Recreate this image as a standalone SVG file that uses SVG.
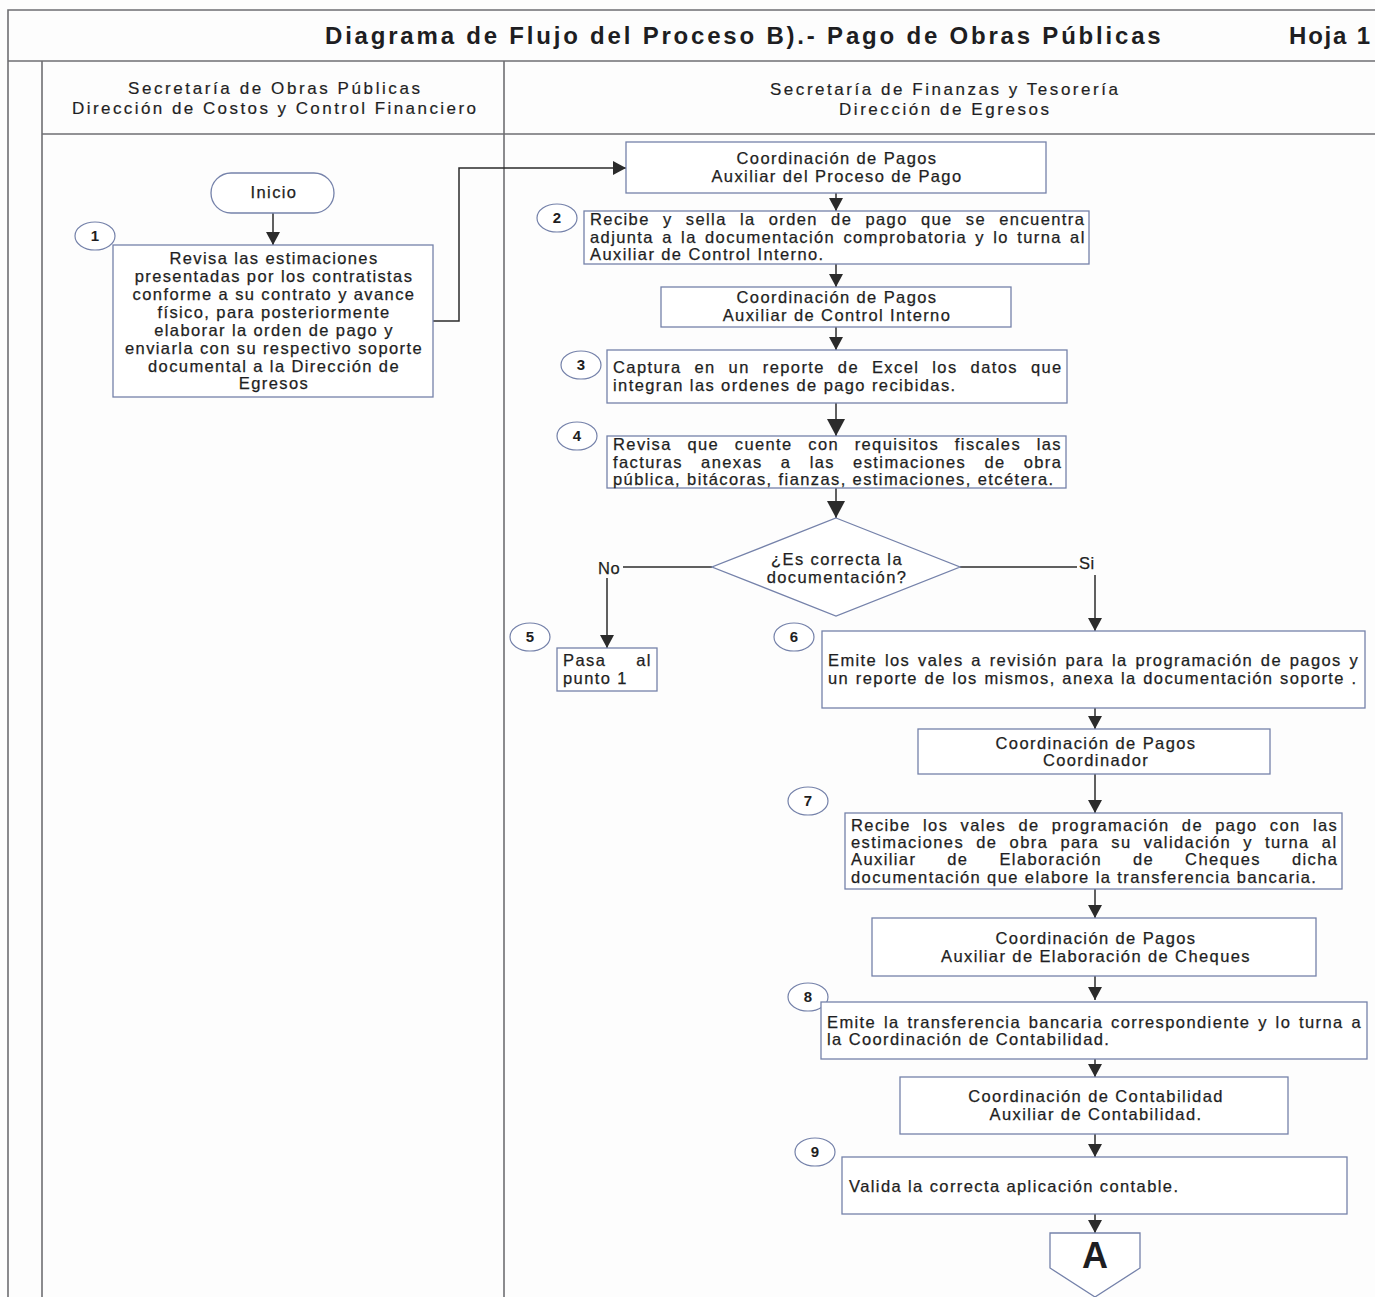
<svg xmlns="http://www.w3.org/2000/svg" width="1375" height="1297" viewBox="0 0 1375 1297">
  <defs>
    <marker id="arrow" markerUnits="userSpaceOnUse" markerWidth="14" markerHeight="14" refX="13" refY="7" orient="auto">
      <path d="M0,0 L13,7 L0,14 Z" fill="#2b2b2b"/>
    </marker>
    <marker id="arrowBig" markerUnits="userSpaceOnUse" markerWidth="18" markerHeight="18" refX="17" refY="9" orient="auto">
      <path d="M0,0 L17,9 L0,18 Z" fill="#2b2b2b"/>
    </marker>
  </defs>
  <style>
    .frame { fill: none; stroke: #6e6e72; stroke-width: 1.6; }
    .box { fill: #ffffff; stroke: #7582aa; stroke-width: 1.3; }
    .step { fill: #ffffff; stroke: #7582aa; stroke-width: 1.2; }
    .edge { fill: none; stroke: #2b2b2b; stroke-width: 1.5; }
    text { font-family: "Liberation Sans", Arial, sans-serif; fill: #1e1e22; }
    .title { font-size: 24px; font-weight: bold; letter-spacing: 2.8px; }
    .lane { font-size: 17px; text-anchor: middle; stroke: #2a2a2e; stroke-width: 0.2px; }
    .t { font-size: 16.5px; letter-spacing: 1.4px; stroke: #1e1e22; stroke-width: 0.25px; }
    .c { font-size: 16.5px; letter-spacing: 1.4px; text-anchor: middle; stroke: #1e1e22; stroke-width: 0.25px; }
    .num { font-size: 15px; font-weight: bold; text-anchor: middle; }
  </style>

  <rect x="0" y="0" width="1375" height="1297" fill="#fdfdfd"/>

  <!-- Sheet frame, title row and swimlanes -->
  <g id="frame">
    <path class="frame" d="M8,1297 V10 H1375"/>
    <path class="frame" d="M8,61 H1375"/>
    <path class="frame" d="M42,61 V1297"/>
    <path class="frame" d="M42,134 H1375"/>
    <path class="frame" d="M504,61 V1297"/>
    <text class="title" x="325" y="44">Diagrama de Flujo del Proceso B).- Pago de Obras Públicas</text>
    <text class="title" x="1289" y="44" style="letter-spacing:1.8px">Hoja 1</text>
    <text class="lane" x="274" y="94" textLength="292" lengthAdjust="spacing">Secretaría de Obras Públicas</text>
    <text class="lane" x="274" y="114" textLength="404" lengthAdjust="spacing">Dirección de Costos y Control Financiero</text>
    <text class="lane" x="944" y="95" textLength="348" lengthAdjust="spacing">Secretaría de Finanzas y Tesorería</text>
    <text class="lane" x="944" y="115" textLength="210" lengthAdjust="spacing">Dirección de Egresos</text>
  </g>

  <!-- Connectors -->
  <g id="connectors">
    <path class="edge" d="M273,213 V245" marker-end="url(#arrow)"/>
    <path class="edge" d="M433,321 H459 V168 H626" marker-end="url(#arrow)"/>
    <path class="edge" d="M836,193 V211" marker-end="url(#arrow)"/>
    <path class="edge" d="M836,264 V287" marker-end="url(#arrow)"/>
    <path class="edge" d="M836,327 V350" marker-end="url(#arrow)"/>
    <path class="edge" d="M836,403 V436" marker-end="url(#arrowBig)"/>
    <path class="edge" d="M836,488 V518" marker-end="url(#arrowBig)"/>
    <path class="edge" d="M712,567 H623"/>
    <path class="edge" d="M607,578 V648" marker-end="url(#arrow)"/>
    <path class="edge" d="M960,567 H1077"/>
    <path class="edge" d="M1095,575 V631" marker-end="url(#arrow)"/>
    <path class="edge" d="M1095,708 V729" marker-end="url(#arrow)"/>
    <path class="edge" d="M1095,774 V813" marker-end="url(#arrow)"/>
    <path class="edge" d="M1095,889 V918" marker-end="url(#arrow)"/>
    <path class="edge" d="M1095,976 V1000" marker-end="url(#arrow)"/>
    <path class="edge" d="M1095,1059 V1077" marker-end="url(#arrow)"/>
    <path class="edge" d="M1095,1134 V1157" marker-end="url(#arrow)"/>
    <path class="edge" d="M1095,1214 V1233" marker-end="url(#arrow)"/>
    <text class="t" x="598" y="574" style="letter-spacing:0.5px">No</text>
    <text class="t" x="1079" y="569" style="letter-spacing:0.5px">Si</text>
  </g>

  <!-- Start -->
  <g id="inicio">
    <rect class="box" x="211" y="173" width="123" height="40" rx="20" ry="20"/>
    <text class="c" x="274" y="198">Inicio</text>
  </g>

  <!-- Step 1 -->
  <g id="step1">
    <ellipse class="step" cx="95" cy="236" rx="20" ry="14"/>
    <text class="num" x="95" y="241">1</text>
    <rect class="box" x="113" y="245" width="320" height="152"/>
    <text class="c" x="274" y="264">Revisa las estimaciones</text>
    <text class="c" x="274" y="282">presentadas por los contratistas</text>
    <text class="c" x="274" y="300">conforme a su contrato y avance</text>
    <text class="c" x="274" y="318">físico, para posteriormente</text>
    <text class="c" x="274" y="336">elaborar la orden de pago y</text>
    <text class="c" x="274" y="354">enviarla con su respectivo soporte</text>
    <text class="c" x="274" y="372">documental a la Dirección de</text>
    <text class="c" x="274" y="389">Egresos</text>
  </g>

  <!-- Role: Auxiliar del Proceso de Pago -->
  <g id="role-proceso-pago">
    <rect class="box" x="626" y="142" width="420" height="51"/>
    <text class="c" x="837" y="164">Coordinación de Pagos</text>
    <text class="c" x="837" y="182">Auxiliar del Proceso de Pago</text>
  </g>

  <!-- Step 2 -->
  <g id="step2">
    <ellipse class="step" cx="557" cy="218" rx="20" ry="14"/>
    <text class="num" x="557" y="223">2</text>
    <rect class="box" x="584" y="211" width="505" height="53"/>
    <text class="t" x="590" y="225" style="word-spacing:7.2px">Recibe y sella la orden de pago que se encuentra</text>
    <text class="t" x="590" y="243" style="word-spacing:2.3px">adjunta a la documentación comprobatoria y lo turna al</text>
    <text class="t" x="590" y="260">Auxiliar de Control Interno.</text>
  </g>

  <!-- Role: Auxiliar de Control Interno -->
  <g id="role-control-interno">
    <rect class="box" x="661" y="287" width="350" height="40"/>
    <text class="c" x="837" y="303">Coordinación de Pagos</text>
    <text class="c" x="837" y="321">Auxiliar de Control Interno</text>
  </g>

  <!-- Step 3 -->
  <g id="step3">
    <ellipse class="step" cx="581" cy="365" rx="20" ry="14"/>
    <text class="num" x="581" y="370">3</text>
    <rect class="box" x="607" y="350" width="460" height="53"/>
    <text class="t" x="613" y="373" style="word-spacing:7px">Captura en un reporte de Excel los datos que</text>
    <text class="t" x="613" y="391">integran las ordenes de pago recibidas.</text>
  </g>

  <!-- Step 4 -->
  <g id="step4">
    <ellipse class="step" cx="577" cy="436" rx="20" ry="14"/>
    <text class="num" x="577" y="441">4</text>
    <rect class="box" x="607" y="436" width="459" height="52"/>
    <text class="t" x="613" y="450" style="word-spacing:9.6px">Revisa que cuente con requisitos fiscales las</text>
    <text class="t" x="613" y="468" style="word-spacing:12.2px">facturas anexas a las estimaciones de obra</text>
    <text class="t" x="613" y="485">pública, bitácoras, fianzas, estimaciones, etcétera.</text>
  </g>

  <!-- Decision -->
  <g id="decision">
    <polygon class="box" points="836,518 960,567 836,616 712,567"/>
    <text class="c" x="837" y="565">¿Es correcta la</text>
    <text class="c" x="837" y="583">documentación?</text>
  </g>

  <!-- Step 5 -->
  <g id="step5">
    <ellipse class="step" cx="530" cy="637" rx="20" ry="14"/>
    <text class="num" x="530" y="642">5</text>
    <rect class="box" x="557" y="648" width="100" height="43"/>
    <text class="t" x="563" y="666" style="word-spacing:24px">Pasa al</text>
    <text class="t" x="563" y="684">punto 1</text>
  </g>

  <!-- Step 6 -->
  <g id="step6">
    <ellipse class="step" cx="794" cy="637" rx="20" ry="14"/>
    <text class="num" x="794" y="642">6</text>
    <rect class="box" x="822" y="631" width="543" height="77"/>
    <text class="t" x="828" y="666" style="word-spacing:1.8px">Emite los vales a revisión para la programación de pagos y</text>
    <text class="t" x="828" y="684" style="word-spacing:0.7px">un reporte de los mismos, anexa la documentación soporte .</text>
  </g>

  <!-- Role: Coordinador -->
  <g id="role-coordinador">
    <rect class="box" x="918" y="729" width="352" height="45"/>
    <text class="c" x="1096" y="749">Coordinación de Pagos</text>
    <text class="c" x="1096" y="766">Coordinador</text>
  </g>

  <!-- Step 7 -->
  <g id="step7">
    <ellipse class="step" cx="808" cy="801" rx="20" ry="14"/>
    <text class="num" x="808" y="806">7</text>
    <rect class="box" x="845" y="813" width="497" height="76"/>
    <text class="t" x="851" y="831" style="word-spacing:6.3px">Recibe los vales de programación de pago con las</text>
    <text class="t" x="851" y="848" style="word-spacing:6.2px">estimaciones de obra para su validación y turna al</text>
    <text class="t" x="851" y="865" style="word-spacing:25px">Auxiliar de Elaboración de Cheques dicha</text>
    <text class="t" x="851" y="883">documentación que elabore la transferencia bancaria.</text>
  </g>

  <!-- Role: Auxiliar de Elaboración de Cheques -->
  <g id="role-cheques">
    <rect class="box" x="872" y="918" width="444" height="58"/>
    <text class="c" x="1096" y="944">Coordinación de Pagos</text>
    <text class="c" x="1096" y="962">Auxiliar de Elaboración de Cheques</text>
  </g>

  <!-- Step 8 -->
  <g id="step8">
    <ellipse class="step" cx="808" cy="997" rx="20" ry="14"/>
    <text class="num" x="808" y="1002">8</text>
    <rect class="box" x="821" y="1002" width="546" height="57"/>
    <text class="t" x="827" y="1028" style="word-spacing:1.8px">Emite la transferencia bancaria correspondiente y lo turna a</text>
    <text class="t" x="827" y="1045">la Coordinación de Contabilidad.</text>
  </g>

  <!-- Role: Auxiliar de Contabilidad -->
  <g id="role-contabilidad">
    <rect class="box" x="900" y="1077" width="388" height="57"/>
    <text class="c" x="1096" y="1102">Coordinación de Contabilidad</text>
    <text class="c" x="1096" y="1120">Auxiliar de Contabilidad.</text>
  </g>

  <!-- Step 9 -->
  <g id="step9">
    <ellipse class="step" cx="815" cy="1152" rx="20" ry="14"/>
    <text class="num" x="815" y="1157">9</text>
    <rect class="box" x="842" y="1157" width="505" height="57"/>
    <text class="t" x="849" y="1192">Valida la correcta aplicación contable.</text>
  </g>

  <!-- Off-page connector A -->
  <g id="connector-A">
    <path class="box" d="M1050,1233 H1140 V1268 L1095,1297 L1050,1268 Z"/>
    <text x="1095" y="1268" font-size="36" font-weight="bold" text-anchor="middle">A</text>
  </g>
</svg>
